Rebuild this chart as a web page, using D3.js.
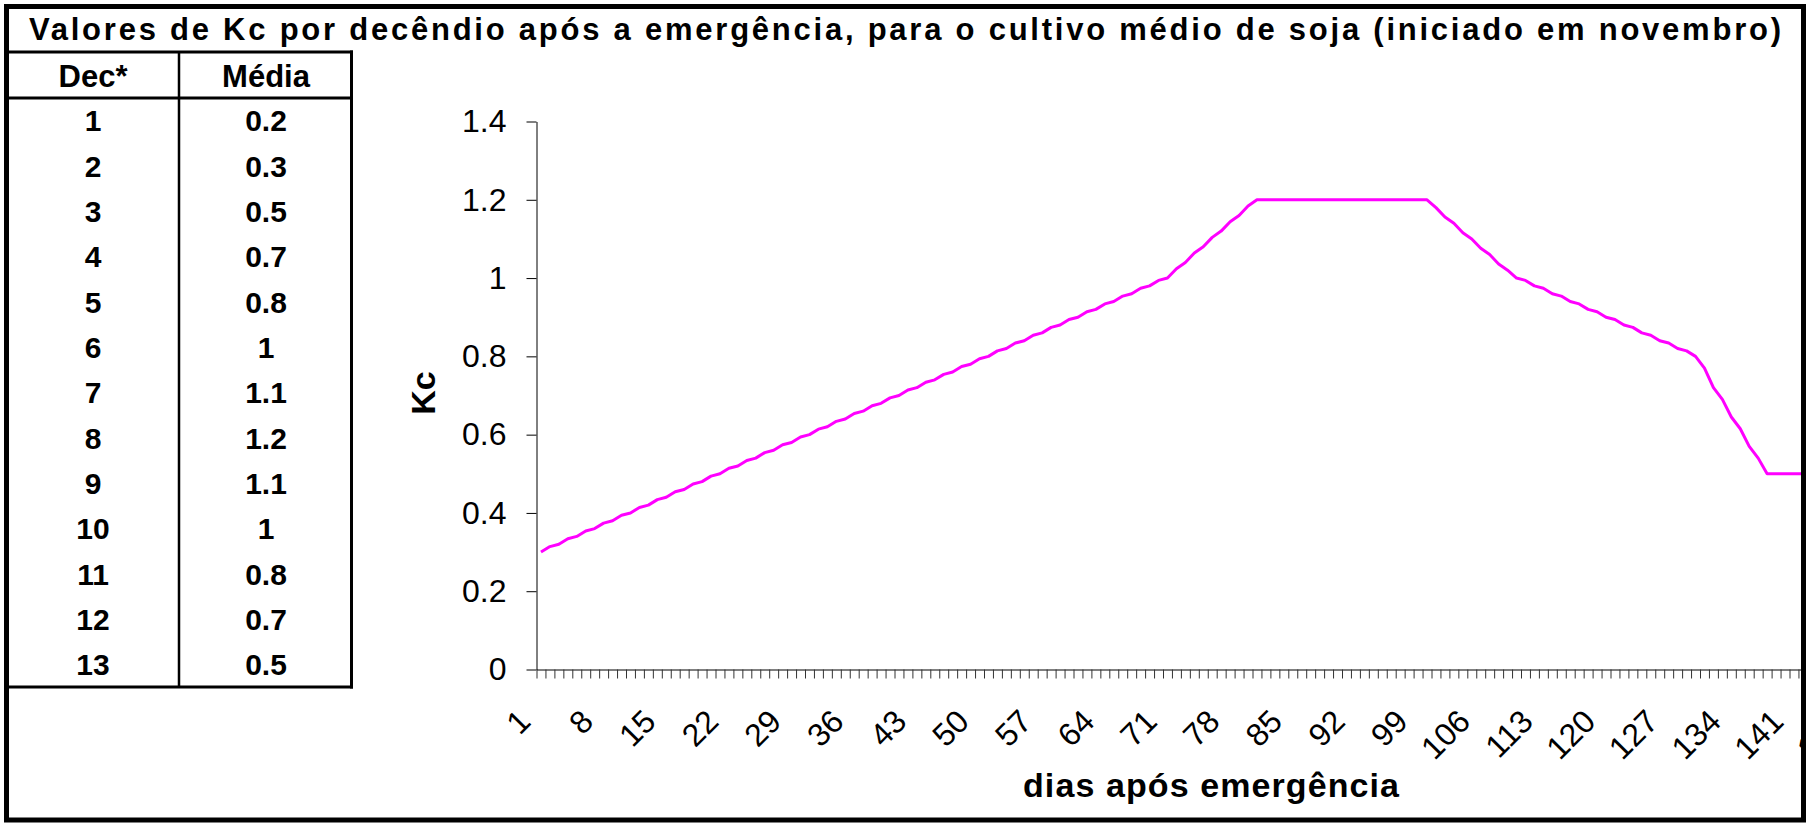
<!DOCTYPE html>
<html>
<head>
<meta charset="utf-8">
<script src="https://cdn.jsdelivr.net/npm/d3@7"></script>
<style>
  html, body { margin: 0; padding: 0; background: #fff; }
  svg text { font-family: "Liberation Sans", Arial, sans-serif; fill: #000; }
</style>
</head>
<body>
<div id="chart"></div>
<script>
var width = 1808;
var height = 823;

// Table data (decêndios)
var tableDec = [1, 2, 3, 4, 5, 6, 7, 8, 9, 10, 11, 12, 13];
var tableMedia = [0.2, 0.3, 0.5, 0.7, 0.8, 1, 1.1, 1.2, 1.1, 1, 0.8, 0.7, 0.5];

// Daily Kc (days 1..150)
var kc = [
  0.300, 0.314, 0.320, 0.334, 0.340, 0.354, 0.360, 0.374, 0.380, 0.394,
  0.400, 0.414, 0.420, 0.434, 0.440, 0.454, 0.460, 0.474, 0.480, 0.494,
  0.500, 0.514, 0.520, 0.534, 0.540, 0.554, 0.560, 0.574, 0.580, 0.594,
  0.600, 0.614, 0.620, 0.634, 0.640, 0.654, 0.660, 0.674, 0.680, 0.694,
  0.700, 0.714, 0.720, 0.734, 0.740, 0.754, 0.760, 0.774, 0.780, 0.794,
  0.800, 0.814, 0.820, 0.834, 0.840, 0.854, 0.860, 0.874, 0.880, 0.894,
  0.900, 0.914, 0.920, 0.934, 0.940, 0.954, 0.960, 0.974, 0.980, 0.994,
  1.000, 1.024, 1.040, 1.064, 1.080, 1.104, 1.120, 1.144, 1.160, 1.184,
  1.200, 1.200, 1.200, 1.200, 1.200, 1.200, 1.200, 1.200, 1.200, 1.200,
  1.200, 1.200, 1.200, 1.200, 1.200, 1.200, 1.200, 1.200, 1.200, 1.200,
  1.180, 1.156, 1.140, 1.116, 1.100, 1.076, 1.060, 1.036, 1.020, 1.000,
  0.994, 0.980, 0.974, 0.960, 0.954, 0.940, 0.934, 0.920, 0.914, 0.900,
  0.894, 0.880, 0.874, 0.860, 0.854, 0.840, 0.834, 0.820, 0.814, 0.800,
  0.770, 0.720, 0.690, 0.645, 0.615, 0.570, 0.540, 0.500, 0.500, 0.500,
  0.500, 0.500, 0.500, 0.500, 0.500, 0.500, 0.500, 0.500, 0.500, 0.500
];
var days = kc.map(function(d, i) { return i + 1; });

var xLabels = [1, 8, 15, 22, 29, 36, 43, 50, 57, 64, 71, 78, 85, 92, 99, 106, 113, 120, 127, 134, 141, 148];
var yTicks = [0, 0.2, 0.4, 0.6, 0.8, 1, 1.2, 1.4];

var svg = d3.select("#chart")
    .append("svg")
    .attr("width", width)
    .attr("height", height);

svg.append("rect").attr("width", width).attr("height", height).attr("fill", "#fff");

// Chart area is cut by the outer frame on the right
svg.append("clipPath").attr("id", "frameClip")
  .append("rect").attr("x", 0).attr("y", 0).attr("width", 1801).attr("height", 818);

var chart = svg.append("g").attr("clip-path", "url(#frameClip)");

// Scales
var catW = 8.95;
var x0 = 536.5;
var x = d3.scaleLinear()
    .domain([0.5, days.length + 0.5])
    .range([x0, x0 + days.length * catW]);

var y = d3.scaleLinear()
    .domain([0, 1.4])
    .range([669.5, 121.5]);

// Y axis
var yAxis = chart.append("g")
    .attr("transform", "translate(" + x0 + ",0)")
    .call(d3.axisLeft(y).tickValues(yTicks).tickSize(10).tickSizeOuter(0).tickPadding(20)
      .tickFormat(function(d) { return String(d); }));
yAxis.select(".domain").attr("stroke", "#000");
yAxis.selectAll(".tick line").attr("stroke", "#000");
yAxis.selectAll("text")
    .style("font-size", "32px")
    .attr("font-family", null);

// X axis tick marks (between categories)
var boundaries = days.map(function(d) { return d - 0.5; });
var xTicks = chart.append("g")
    .attr("transform", "translate(0," + y(0) + ")")
    .call(d3.axisBottom(x).tickValues(boundaries).tickSize(9).tickSizeOuter(0).tickFormat(""));
xTicks.select(".domain").attr("stroke", "#000");
xTicks.selectAll(".tick line").attr("stroke", "#333");

// X axis labels, rotated
var xLab = chart.append("g")
    .attr("transform", "translate(0," + y(0) + ")")
    .call(d3.axisBottom(x).tickValues(xLabels).tickSize(0).tickSizeOuter(0)
      .tickFormat(function(d) { return String(d); }));
xLab.select(".domain").remove();
xLab.selectAll("text")
    .attr("y", 0)
    .attr("dy", "0.35em")
    .attr("text-anchor", "end")
    .attr("transform", "translate(-17,46) rotate(-45)")
    .style("font-size", "32px");

// Kc line
var line = d3.line()
    .x(function(d, i) { return x(days[i]); })
    .y(function(d) { return y(d); });

chart.append("path")
    .datum(kc)
    .attr("fill", "none")
    .attr("stroke", "#ff00ff")
    .attr("stroke-width", 3)
    .attr("stroke-linejoin", "round")
    .attr("d", line);

// Axis titles
svg.append("text")
    .attr("transform", "translate(435,393) rotate(-90)")
    .attr("text-anchor", "middle")
    .style("font-size", "34px")
    .style("font-weight", "bold")
    .text("Kc");

svg.append("text")
    .attr("x", 1211)
    .attr("y", 797)
    .attr("text-anchor", "middle")
    .attr("textLength", 376)
    .style("font-size", "34px")
    .style("font-weight", "bold")
    .text("dias após emergência");

// Title
svg.append("text")
    .attr("x", 905)
    .attr("y", 40)
    .attr("text-anchor", "middle")
    .attr("textLength", 1752)
    .style("font-size", "31px")
    .style("font-weight", "bold")
    .text("Valores de Kc por decêndio após a emergência, para o cultivo médio de soja (iniciado em novembro)");

// Table
var tblLeft = 7, tblRight = 351.5, colDiv = 179;
var headTop = 52, headBottom = 98, tblBottom = 687;
var rowH = (tblBottom - headBottom) / tableDec.length;

var table = svg.append("g");

table.append("text")
    .attr("x", 93).attr("y", 87)
    .attr("text-anchor", "middle")
    .style("font-size", "31px").style("font-weight", "bold")
    .text("Dec*");
table.append("text")
    .attr("x", 266).attr("y", 87)
    .attr("text-anchor", "middle")
    .style("font-size", "31px").style("font-weight", "bold")
    .text("Média");

table.selectAll(".decTxt")
    .data(tableDec)
    .enter()
    .append("text")
    .attr("class", "decTxt")
    .attr("x", 93)
    .attr("y", function(d, i) { return headBottom + rowH * (i + 0.5); })
    .attr("dy", "0.36em")
    .attr("text-anchor", "middle")
    .style("font-size", "30px").style("font-weight", "bold")
    .text(function(d) { return d; });

table.selectAll(".medTxt")
    .data(tableMedia)
    .enter()
    .append("text")
    .attr("class", "medTxt")
    .attr("x", 266)
    .attr("y", function(d, i) { return headBottom + rowH * (i + 0.5); })
    .attr("dy", "0.36em")
    .attr("text-anchor", "middle")
    .style("font-size", "30px").style("font-weight", "bold")
    .text(function(d) { return d; });

// table rules
var hLines = [headTop, headBottom, tblBottom];
table.selectAll(".hl")
    .data(hLines)
    .enter()
    .append("line")
    .attr("x1", tblLeft).attr("x2", tblRight + 1.5)
    .attr("y1", function(d) { return d; }).attr("y2", function(d) { return d; })
    .attr("stroke", "#000").attr("stroke-width", 3);
table.append("line")
    .attr("x1", tblRight).attr("x2", tblRight)
    .attr("y1", headTop - 1.5).attr("y2", tblBottom + 1.5)
    .attr("stroke", "#000").attr("stroke-width", 3);
table.append("line")
    .attr("x1", colDiv).attr("x2", colDiv)
    .attr("y1", headTop).attr("y2", tblBottom)
    .attr("stroke", "#000").attr("stroke-width", 2.5);

// Outer frame
svg.append("rect")
    .attr("x", 6.5).attr("y", 6.5)
    .attr("width", 1797).attr("height", 813.5)
    .attr("fill", "none")
    .attr("stroke", "#000")
    .attr("stroke-width", 5);
</script>
</body>
</html>
